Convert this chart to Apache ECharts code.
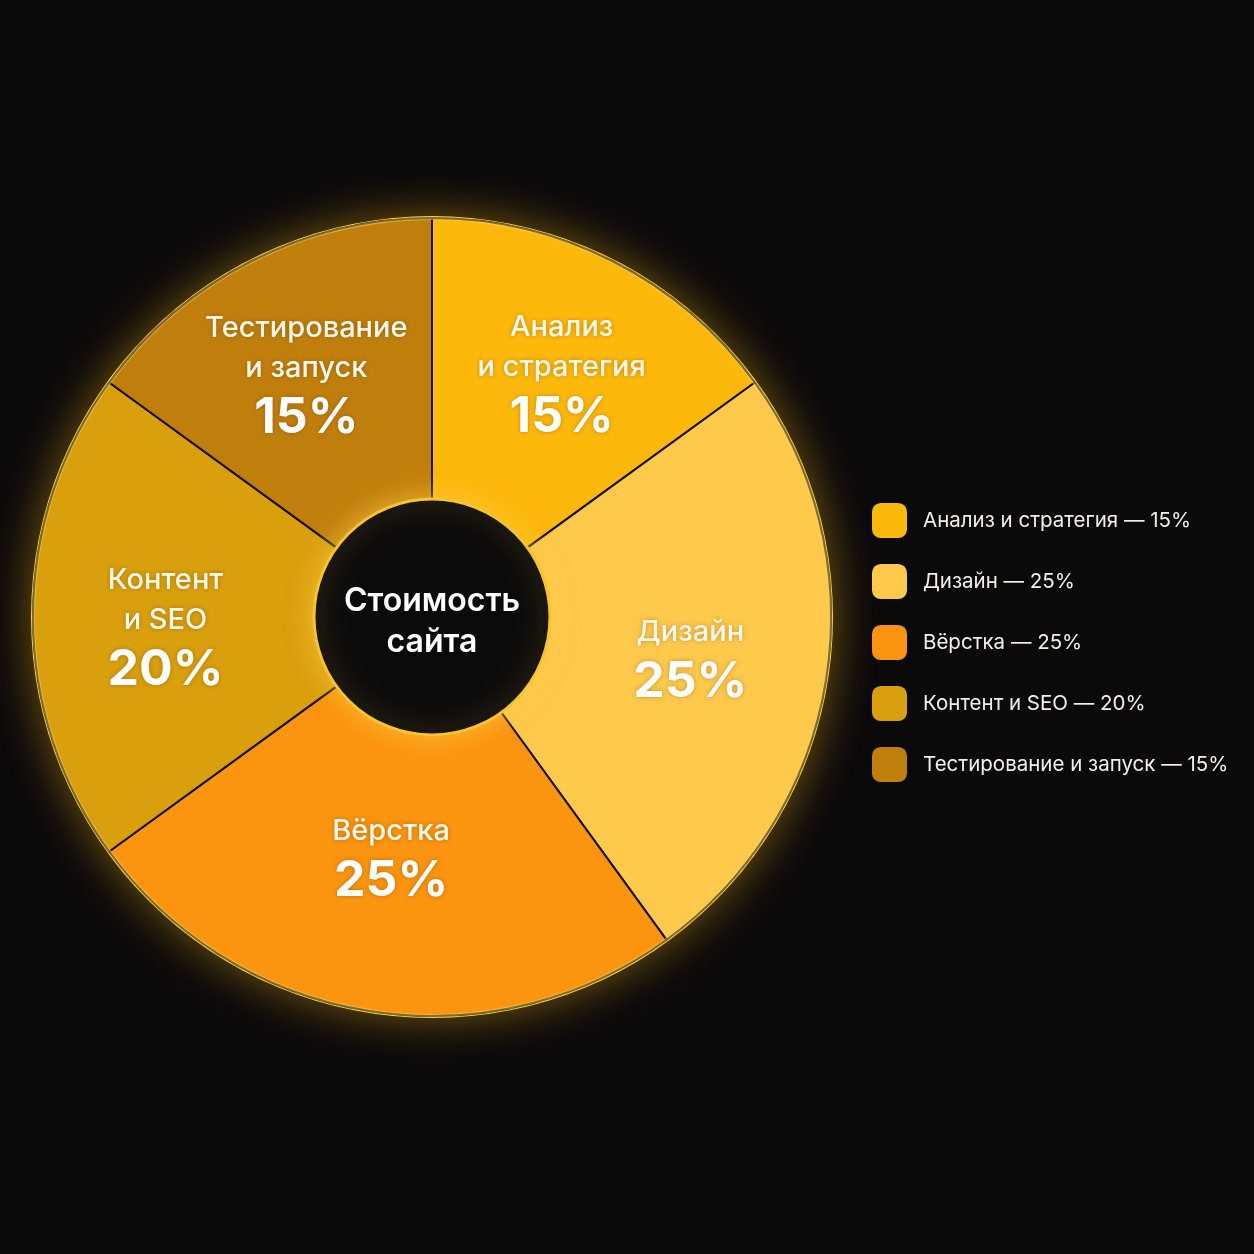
<!DOCTYPE html>
<html><head><meta charset="utf-8">
<script src="https://cdn.jsdelivr.net/npm/echarts@6/dist/echarts.min.js"></script>
<style>html,body{margin:0;background:#0b0a0b}#c{width:1254px;height:1254px}</style>
</head><body><div id="c"></div>
<script>
const categories = ['Анализ и стратегия','Дизайн','Вёрстка','Контент и SEO','Тестирование и запуск'];
const sliceLabels = ['Анализ\nи стратегия','Дизайн','Вёрстка','Контент\nи SEO','Тестирование\nи запуск'];
const shares = [15,25,25,20,15];
const colors = ['#FDB80C','#FFC94C','#FB940F','#D99F0D','#C07F0D'];
const centerTitle = 'Стоимость\nсайта';

const FONT = 'Inter, Roboto, "Noto Sans", sans-serif';
const C = [432, 617];
// label nudges (style only): padding [top,right,bottom,left]
const labelPad = {
  'Анализ и стратегия':[0,0,14,22],
  'Дизайн':[8,0,0,0],
  'Вёрстка':[0,0,28,0],
  'Контент и SEO':[26,10,0,0],
  'Тестирование и запуск':[0,14,12,0]
};
const chart = echarts.init(document.getElementById('c'), null, {renderer:'canvas'});

const mainData = categories.map((n,i)=>({
  name:n, value:shares[i],
  itemStyle:{color:colors[i]},
  label:{padding:labelPad[n],
    formatter: '{n|' + sliceLabels[i].split('\n').join('}\n{n|') + '}\n{p|' + shares[i] + '%}'}
}));

chart.setOption({
  backgroundColor:'#0b0a0b',
  animation:false,
  title:{
    text:centerTitle, left:432, top:581, textAlign:'center', padding:0,
    textStyle:{color:'#ffffff', fontSize:32, fontWeight:600, lineHeight:41, fontFamily:FONT}
  },
  legend:{
    data:categories, orient:'vertical', left:872, top:503,
    itemWidth:35, itemHeight:35, itemGap:26, icon:'roundRect',
    selectedMode:false, padding:0,
    itemStyle:{borderWidth:0, shadowBlur:0},
    textStyle:{color:'#f2efe9', fontSize:20.5, fontFamily:FONT, padding:[0,0,0,11]},
    formatter:function(name){ const i=categories.indexOf(name); return name + ' — ' + shares[i] + '%'; }
  },
  series:[
    { type:'pie', name:'glow', silent:true, z:1, center:C, radius:[0,401],
      label:{show:false}, labelLine:{show:false},
      data:[{value:1, name:'glow', itemStyle:{color:'#FFD23C', shadowBlur:45, shadowColor:'rgba(255,185,20,0.45)'}}] },
    { type:'pie', name:'main', z:2, center:C, radius:[118,399], startAngle:90, clockwise:true,
      silent:true,
      itemStyle:{borderColor:'#16100a', borderWidth:2},
      labelLine:{show:false},
      label:{show:true, position:'inside', fontFamily:FONT, color:'#fff',
        textShadowColor:'rgba(80,40,0,0.35)', textShadowBlur:4,
        rich:{
          n:{fontSize:29, fontWeight:500, color:'#fff8ea', lineHeight:40, fontFamily:FONT, align:'center'},
          p:{fontSize:50, fontWeight:700, color:'#ffffff', lineHeight:60, fontFamily:FONT, align:'center'}
        }},
      data:mainData },
    { type:'pie', name:'rim', silent:true, z:3, center:C, radius:[397,400],
      label:{show:false}, labelLine:{show:false},
      data:[{value:1, name:'rim', itemStyle:{color:'rgba(255,218,100,0.45)'}}] },
    { type:'pie', name:'hole', silent:true, z:4, center:C, radius:[0,118],
      labelLine:{show:false}, label:{show:false},
      data:[{value:1, name:'hole', itemStyle:{color:'#0c0b0c', borderColor:'#F7C530', borderWidth:3,
        shadowBlur:28, shadowColor:'rgba(255,205,70,0.7)'}}] }
  ]
});
</script></body></html>
